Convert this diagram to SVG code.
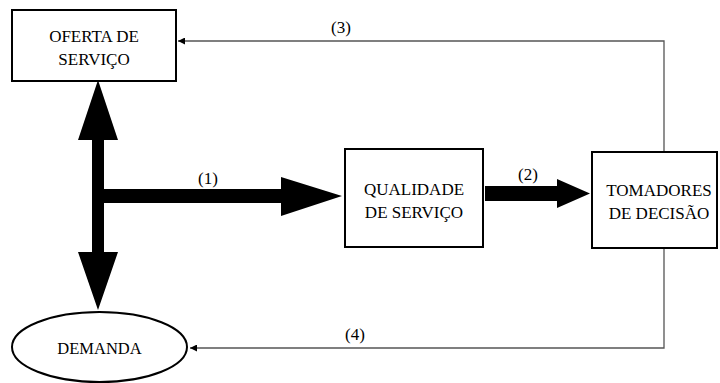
<svg xmlns="http://www.w3.org/2000/svg" width="720" height="383" viewBox="0 0 720 383">
<style>
text{font-family:'Liberation Serif','Times New Roman',serif;font-size:17px;fill:#000;text-anchor:middle}
.box{fill:#fff;stroke:#000;stroke-width:2}
.thin{fill:none;stroke:#555;stroke-width:1.3}
.thick{fill:#000;stroke:none}
</style>
<defs>
<marker id="ah" viewBox="0 0 10 10" refX="10" refY="5" markerWidth="8" markerHeight="7" markerUnits="userSpaceOnUse" orient="auto">
<path d="M0,0 L10,5 L0,10 z" fill="#000"/>
</marker>
</defs>
<g id="connectors">
<polygon class="thick" points="98,80 118,140 104,140 104,189 281,189 281,177 342,196 281,216 281,203 104,203 104,252 118,252 98,310 78,252 92,252 92,140 78,140"/>
<polygon class="thick" points="485,186 557,186 557,179 590,193.5 557,208 557,201 485,201"/>
<polyline class="thin" points="664,152 664,41 178,41" marker-end="url(#ah)"/>
<polyline class="thin" points="664,248 664,348 190,348" marker-end="url(#ah)"/>
<text x="208" y="184">(1)</text>
<text x="528" y="180">(2)</text>
<text x="341" y="33">(3)</text>
<text x="355" y="340">(4)</text>
</g>
<g id="oferta">
<rect class="box" x="12" y="10" width="164" height="71"/>
<text x="94" y="42">OFERTA DE</text>
<text x="94" y="65">SERVIÇO</text>
</g>
<g id="qualidade">
<rect class="box" x="345" y="149" width="138" height="98"/>
<text x="414" y="195">QUALIDADE</text>
<text x="414" y="218">DE SERVIÇO</text>
</g>
<g id="tomadores">
<rect class="box" x="592" y="152" width="125" height="96"/>
<text x="659" y="196">TOMADORES</text>
<text x="659" y="219">DE DECISÃO</text>
</g>
<g id="demanda">
<ellipse class="box" cx="99.5" cy="347" rx="87.5" ry="35"/>
<text x="99.5" y="354" style="font-size:16.5px">DEMANDA</text>
</g>
</svg>
